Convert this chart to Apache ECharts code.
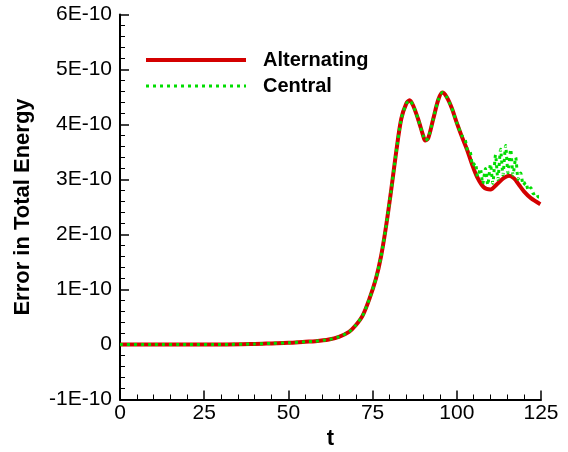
<!DOCTYPE html>
<html>
<head>
<meta charset="utf-8">
<script src="https://cdn.jsdelivr.net/npm/echarts@6/dist/echarts.min.js"></script>
<style>html,body{margin:0;padding:0;background:#fff;}#c{width:568px;height:452px;}</style>
</head>
<body>
<div id="c"></div>
<script>
// values in units of 1E-10
const altT = [0, 10, 20, 30, 40, 45, 50, 55, 58, 62, 65, 68, 70, 72, 74, 76, 77.5, 79, 80.5, 82, 83.5, 85, 86, 87, 88.5, 90, 90.6, 91.5, 93, 94.5, 95.7, 97, 98.5, 100, 101.5, 103, 104.5, 106, 108, 110, 112, 114, 115.5, 117, 118.5, 120, 122, 124.8];
const altV = [0, 0, 0, 0, 0.01, 0.02, 0.03, 0.05, 0.06, 0.09, 0.14, 0.23, 0.35, 0.52, 0.82, 1.2, 1.6, 2.15, 2.8, 3.5, 4.1, 4.38, 4.44, 4.35, 4.1, 3.8, 3.71, 3.75, 4.1, 4.45, 4.58, 4.5, 4.3, 4.03, 3.78, 3.55, 3.28, 3.05, 2.86, 2.82, 2.92, 3.03, 3.07, 3.02, 2.9, 2.78, 2.66, 2.55];
const cenT = [0, 10, 20, 30, 40, 45, 50, 55, 58, 62, 65, 68, 70, 72, 74, 76, 77.5, 79, 80.5, 82, 83.5, 85, 86, 87, 88.5, 90, 90.6, 91.5, 93, 94.5, 95.7, 97, 98.5, 100, 101.5, 102.5, 103.2, 104, 104.7, 105.5, 106.2, 107, 107.7, 108.5, 109.2, 110, 110.7, 111.5, 112.2, 113, 113.7, 114.5, 115.2, 116, 116.7, 117.5, 118.2, 119, 119.7, 120.5, 121.2, 122, 122.7, 123.5, 124.2, 124.8];
const cenV = [0, 0, 0, 0, 0.01, 0.02, 0.03, 0.05, 0.06, 0.09, 0.14, 0.23, 0.35, 0.52, 0.82, 1.2, 1.6, 2.15, 2.8, 3.5, 4.1, 4.38, 4.44, 4.35, 4.1, 3.8, 3.71, 3.75, 4.1, 4.45, 4.58, 4.5, 4.3, 4.03, 3.8, 3.72, 3.52, 3.5, 3.25, 3.3, 3.05, 3.2, 2.92, 3.2, 2.9, 3.28, 2.93, 3.45, 3.0, 3.55, 3.08, 3.62, 3.12, 3.55, 3.08, 3.4, 3.0, 3.12, 2.9, 2.95, 2.8, 2.85, 2.74, 2.76, 2.68, 2.68];
const seriesNames = ['Alternating', 'Central'];
const xTicks = {min: 0, max: 125, step: 25};
const yTicks = {min: -1, max: 6, step: 1};

const chart = echarts.init(document.getElementById('c'));
const font = 'Arial, "Liberation Sans", sans-serif';
const RED = '#d40000', GREEN = '#00dd00';
function axisBase() {
  return {
    axisLine: {show: true, onZero: false, lineStyle: {color: '#000', width: 2}},
    axisTick: {show: true, inside: true, length: 9, lineStyle: {color: '#000', width: 1.5}},
    minorTick: {show: true, splitNumber: 5, length: 5, lineStyle: {color: '#000', width: 1}},
    splitLine: {show: false},
    minorSplitLine: {show: false},
    nameTextStyle: {color: '#000', fontFamily: font, fontSize: 22, fontWeight: 'bold'}
  };
}
const xAxis = Object.assign(axisBase(), {
  type: 'value', min: xTicks.min, max: xTicks.max, interval: xTicks.step,
  name: 't', nameLocation: 'middle', nameGap: 27,
  axisLabel: {color: '#000', fontFamily: font, fontSize: 21, margin: 3}
});
const yAxis = Object.assign(axisBase(), {
  type: 'value', min: yTicks.min, max: yTicks.max, interval: yTicks.step,
  name: 'Error in Total Energy', nameLocation: 'middle', nameRotate: 90, nameGap: 86,
  axisLabel: {color: '#000', fontFamily: font, fontSize: 21, margin: 8,
    formatter: function (v) { const n = Math.round(v); return n === 0 ? '0' : n + 'E-10'; }}
});
chart.setOption({
  animation: false,
  backgroundColor: '#fff',
  grid: {left: 120, right: 27, top: 14.5, bottom: 52.5, containLabel: false, outerBoundsMode: 'none'},
  legend: {
    orient: 'vertical', left: 144, top: 50, padding: 0,
    itemWidth: 100, itemHeight: 14, itemGap: 6,
    itemStyle: {opacity: 0},
    textStyle: {color: '#000', fontFamily: font, fontSize: 20, fontWeight: 'bold', padding: [0, 0, 0, 12]},
    data: [
      {name: seriesNames[0], lineStyle: {width: 4}},
      {name: seriesNames[1], lineStyle: {width: 3}}
    ]
  },
  xAxis: xAxis,
  yAxis: yAxis,
  series: [
    {name: seriesNames[0], type: 'line', symbol: 'none', smooth: 0.3,
     data: altT.map(function (t, i) { return [t, altV[i]]; }),
     lineStyle: {color: RED, width: 4}, itemStyle: {color: RED}},
    {name: seriesNames[1], type: 'line', symbol: 'none', smooth: 0.2,
     data: cenT.map(function (t, i) { return [t, cenV[i]]; }),
     lineStyle: {color: GREEN, width: 3, type: [3, 4]}, itemStyle: {color: GREEN}}
  ]
});
</script>
</body>
</html>
